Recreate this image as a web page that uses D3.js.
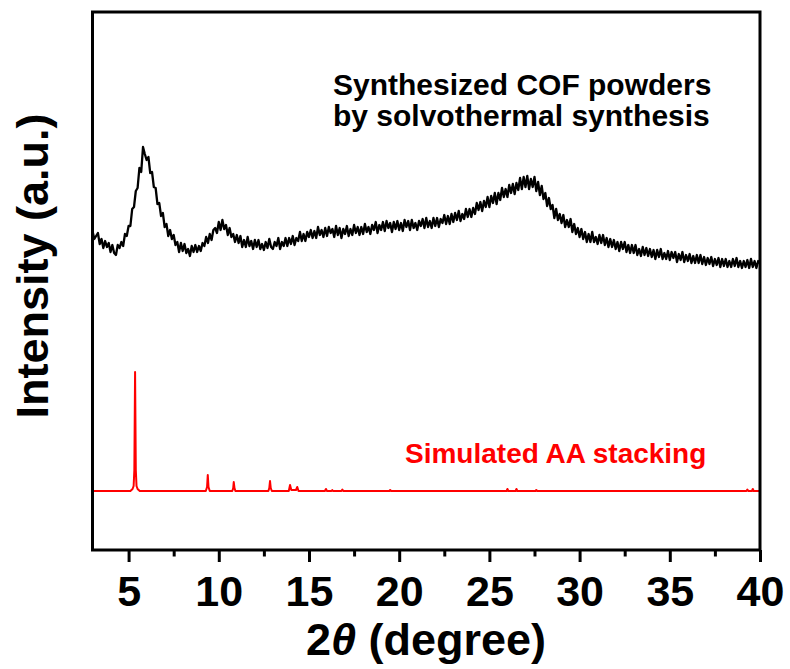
<!DOCTYPE html>
<html><head><meta charset="utf-8">
<script src="https://cdn.jsdelivr.net/npm/d3@7"></script>
<style>body{margin:0;background:#fff}svg{display:block}text{font-family:"Liberation Sans",Arial,sans-serif;font-weight:bold}</style>
</head><body><svg id="c" width="790" height="669"></svg>
<script>
// Experimental pattern (2θ in degrees, intensity in arbitrary units)
const expX = [
3.0,3.1,3.2,3.3,3.4,3.5,3.6,3.7,3.8,3.9,
4.0,4.1,4.2,4.3,4.4,4.5,4.6,4.7,4.8,4.9,
5.0,5.1,5.2,5.3,5.4,5.5,5.6,5.7,5.8,5.9,
6.0,6.1,6.2,6.3,6.4,6.5,6.6,6.7,6.8,6.9,
7.0,7.1,7.2,7.3,7.4,7.5,7.6,7.7,7.8,7.9,
8.0,8.1,8.2,8.3,8.4,8.5,8.6,8.7,8.8,8.9,
9.0,9.1,9.2,9.3,9.4,9.5,9.6,9.7,9.8,9.9,
10.0,10.1,10.2,10.3,10.4,10.5,10.6,10.7,10.8,10.9,
11.0,11.1,11.2,11.3,11.4,11.5,11.6,11.7,11.8,11.9,
12.0,12.1,12.2,12.3,12.4,12.5,12.6,12.7,12.8,12.9,
13.0,13.1,13.2,13.3,13.4,13.5,13.6,13.7,13.8,13.9,
14.0,14.1,14.2,14.3,14.4,14.5,14.6,14.7,14.8,14.9,
15.0,15.1,15.2,15.3,15.4,15.5,15.6,15.7,15.8,15.9,
16.0,16.1,16.2,16.3,16.4,16.5,16.6,16.7,16.8,16.9,
17.0,17.1,17.2,17.3,17.4,17.5,17.6,17.7,17.8,17.9,
18.0,18.1,18.2,18.3,18.4,18.5,18.6,18.7,18.8,18.9,
19.0,19.1,19.2,19.3,19.4,19.5,19.6,19.7,19.8,19.9,
20.0,20.1,20.2,20.3,20.4,20.5,20.6,20.7,20.8,20.9,
21.0,21.1,21.2,21.3,21.4,21.5,21.6,21.7,21.8,21.9,
22.0,22.1,22.2,22.3,22.4,22.5,22.6,22.7,22.8,22.9,
23.0,23.1,23.2,23.3,23.4,23.5,23.6,23.7,23.8,23.9,
24.0,24.1,24.2,24.3,24.4,24.5,24.6,24.7,24.8,24.9,
25.0,25.1,25.2,25.3,25.4,25.5,25.6,25.7,25.8,25.9,
26.0,26.1,26.2,26.3,26.4,26.5,26.6,26.7,26.8,26.9,
27.0,27.1,27.2,27.3,27.4,27.5,27.6,27.7,27.8,27.9,
28.0,28.1,28.2,28.3,28.4,28.5,28.6,28.7,28.8,28.9,
29.0,29.1,29.2,29.3,29.4,29.5,29.6,29.7,29.8,29.9,
30.0,30.1,30.2,30.3,30.4,30.5,30.6,30.7,30.8,30.9,
31.0,31.1,31.2,31.3,31.4,31.5,31.6,31.7,31.8,31.9,
32.0,32.1,32.2,32.3,32.4,32.5,32.6,32.7,32.8,32.9,
33.0,33.1,33.2,33.3,33.4,33.5,33.6,33.7,33.8,33.9,
34.0,34.1,34.2,34.3,34.4,34.5,34.6,34.7,34.8,34.9,
35.0,35.1,35.2,35.3,35.4,35.5,35.6,35.7,35.8,35.9,
36.0,36.1,36.2,36.3,36.4,36.5,36.6,36.7,36.8,36.9,
37.0,37.1,37.2,37.3,37.4,37.5,37.6,37.7,37.8,37.9,
38.0,38.1,38.2,38.3,38.4,38.5,38.6,38.7,38.8,38.9,
39.0,39.1,39.2,39.3,39.4,39.5,39.6,39.7,39.8,39.9,
40.0];
const expY = [
319,311,314,317,306,311,302,309,303,307,
298,305,297,295,305,302,308,304,316,314,
324,324,341,343,359,362,382,378,403,396,
390,393,377,378,363,362,346,347,334,337,
323,326,314,320,311,315,305,308,298,307,
299,306,297,301,294,304,298,305,298,304,
299,307,304,313,307,316,310,320,322,317,
328,320,330,321,325,315,322,313,316,308,
315,307,314,303,310,303,313,304,309,301,
310,303,310,301,306,300,308,302,311,303,
301,308,304,312,301,308,304,312,304,312,
306,314,305,312,309,318,309,316,309,318,
313,320,312,319,312,323,315,320,313,322,
314,323,317,321,313,324,315,322,312,321,
316,324,314,321,315,325,317,323,315,323,
316,326,318,323,316,325,320,328,317,325,
320,328,319,329,322,327,318,328,321,329,
320,327,319,330,323,329,320,330,322,327,
320,329,324,331,322,332,323,329,322,332,
324,332,323,331,327,335,326,334,326,336,
328,337,330,339,329,336,331,341,333,341,
333,342,336,347,340,348,339,349,343,353,
343,354,347,357,346,357,350,362,353,361,
353,365,357,366,356,367,360,372,361,373,
363,374,361,371,363,373,359,368,355,364,
351,357,344,352,341,345,332,341,330,336,
327,335,323,330,323,331,318,326,316,322,
313,321,311,318,308,316,308,318,308,313,
306,315,307,315,305,312,303,311,303,310,
301,308,299,308,301,308,298,305,297,305,
297,305,295,301,294,303,295,302,294,301,
293,300,291,300,293,301,291,297,291,299,
290,298,292,298,288,296,290,298,288,295,
289,296,287,294,287,295,287,295,286,293,
285,292,286,293,284,291,285,292,283,291,
284,291,283,289,283,291,284,292,283,289,
282,289,283,290,282,291,283,289,282,289,
287];

// Simulated AA stacking pattern
const simX = [3.0,5.10,5.22,5.28,5.32,5.36,5.40,5.44,5.50,5.62,
9.28,9.35,9.39,9.43,9.50,
10.75,10.80,10.83,10.87,10.92,
12.75,12.80,12.84,12.88,12.94,
13.88,13.95,14.02,14.28,14.35,14.42,
15.88,15.94,16.00,16.25,16.29,16.33,16.80,16.85,16.90,
19.45,19.50,19.55,25.95,26.00,26.05,26.45,26.50,26.55,
27.55,27.60,27.65,39.25,39.30,39.35,39.55,39.60,39.65,40.0];
const simY = [59,59,61,64,80,178,80,64,61,59,
59,63,75,63,59,
59,62,68,62,59,
59,62,69,62,59,
59,65,60,60,63,59,
59,61,59,59,60,59,59,60.5,59,
59,60,59,59,61,59,59,61,59,
59,60,59,59,60.5,59,59,61,59,59];

const majorTicks = [5,10,15,20,25,30,35,40];
const minorTicks = [7.5,12.5,17.5,22.5,27.5,32.5,37.5];
const xDomain = [3,40];
const yDomain = [0,538];

const svg = d3.select("#c");
const x = d3.scaleLinear().domain(xDomain).range([92.5,760]);
const y = d3.scaleLinear().domain(yDomain).range([550,12]);

// minor ticks
svg.append("g").attr("transform","translate(0,550)")
  .call(d3.axisBottom(x).tickValues(minorTicks).tickSize(6.5).tickFormat(""))
  .call(g=>{g.select(".domain").remove();g.selectAll("line").attr("stroke","#000").attr("stroke-width",3);});
// major ticks
const ax = svg.append("g").attr("transform","translate(0,550)")
  .call(d3.axisBottom(x).tickValues(majorTicks).tickSize(12).tickFormat(d3.format("d")))
  .call(g=>{g.select(".domain").remove();g.selectAll("line").attr("stroke","#000").attr("stroke-width",3);});
ax.selectAll("text").attr("y",56).attr("dy",null).attr("fill","#000")
  .style("font-size","43px").style("font-family","'Liberation Sans',Arial,sans-serif").style("font-weight","bold");

// lines
const line = d3.line().x(d=>x(d[0])).y(d=>y(d[1]));
svg.append("path").datum(simX.map((v,i)=>[v,simY[i]])).attr("d",line)
  .attr("fill","none").attr("stroke","#ff0000").attr("stroke-width",2).attr("stroke-linejoin","round");
svg.append("path").datum(expX.map((v,i)=>[v,expY[i]])).attr("d",line)
  .attr("fill","none").attr("stroke","#000").attr("stroke-width",2.3).attr("stroke-linejoin","round");

// frame
svg.append("rect").attr("x",92.5).attr("y",12).attr("width",760-92.5).attr("height",550-12)
  .attr("fill","none").attr("stroke","#000").attr("stroke-width",3);

// axis titles
const xt = svg.append("text").attr("x",426).attr("y",655).attr("text-anchor","middle").style("font-size","45px");
xt.append("tspan").text("2");
xt.append("tspan").style("font-style","italic").text("θ");
xt.append("tspan").text(" (degree)");
svg.append("text").attr("transform","translate(48,266) rotate(-90)").attr("text-anchor","middle")
  .style("font-size","45px").text("Intensity (a.u.)");

// annotations
svg.append("text").attr("x",333).attr("y",95).style("font-size","30px").text("Synthesized COF powders");
svg.append("text").attr("x",333).attr("y",126).style("font-size","30px").text("by solvothermal synthesis");
svg.append("text").attr("x",405).attr("y",463).style("font-size","28px").attr("fill","#ff0000").text("Simulated AA stacking");
</script></body></html>
